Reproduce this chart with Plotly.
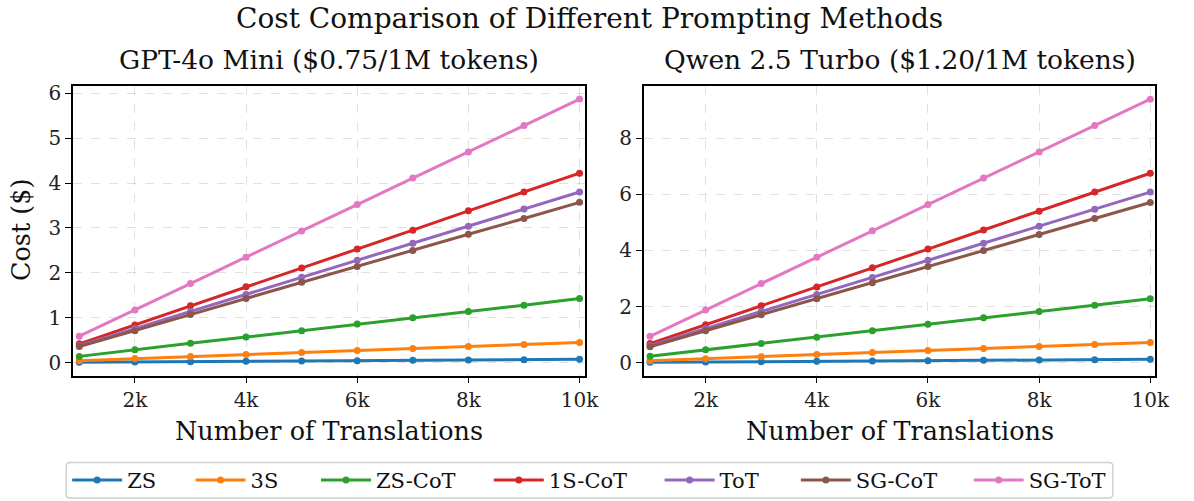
import plotly.graph_objects as go

translations = [1000, 2000, 3000, 4000, 5000, 6000, 7000, 8000, 9000, 10000]
methods = ["ZS", "3S", "ZS-CoT", "1S-CoT", "ToT", "SG-CoT", "SG-ToT"]
colors = ["#1f77b4", "#ff7f0e", "#2ca02c", "#d62728", "#9467bd", "#8c564b", "#e377c2"]

gpt_zs = [0.0075, 0.015, 0.0225, 0.03, 0.0375, 0.045, 0.0525, 0.06, 0.0675, 0.075]
gpt_3s = [0.045, 0.09, 0.135, 0.18, 0.225, 0.27, 0.315, 0.36, 0.405, 0.45]
gpt_zscot = [0.14, 0.29, 0.43, 0.57, 0.71, 0.86, 1.00, 1.14, 1.28, 1.43]
gpt_1scot = [0.42, 0.84, 1.27, 1.69, 2.11, 2.53, 2.95, 3.38, 3.80, 4.22]
gpt_tot = [0.38, 0.76, 1.14, 1.52, 1.90, 2.28, 2.66, 3.04, 3.42, 3.80]
gpt_sgcot = [0.36, 0.71, 1.07, 1.43, 1.79, 2.14, 2.50, 2.86, 3.21, 3.57]
gpt_sgtot = [0.59, 1.17, 1.76, 2.35, 2.93, 3.52, 4.11, 4.69, 5.28, 5.87]

qwen_zs = [0.012, 0.024, 0.036, 0.048, 0.06, 0.072, 0.084, 0.096, 0.108, 0.12]
qwen_3s = [0.072, 0.144, 0.216, 0.288, 0.36, 0.432, 0.504, 0.576, 0.648, 0.72]
qwen_zscot = [0.23, 0.46, 0.68, 0.91, 1.14, 1.37, 1.60, 1.82, 2.05, 2.28]
qwen_1scot = [0.68, 1.35, 2.03, 2.70, 3.38, 4.05, 4.73, 5.40, 6.08, 6.75]
qwen_tot = [0.61, 1.22, 1.82, 2.43, 3.04, 3.65, 4.26, 4.86, 5.47, 6.08]
qwen_sgcot = [0.57, 1.14, 1.71, 2.28, 2.85, 3.43, 4.00, 4.57, 5.14, 5.71]
qwen_sgtot = [0.94, 1.88, 2.82, 3.76, 4.70, 5.64, 6.58, 7.51, 8.45, 9.39]

x_tickvals = [2000, 4000, 6000, 8000, 10000]
x_ticktext = ["2k", "4k", "6k", "8k", "10k"]

gpt_series = [gpt_zs, gpt_3s, gpt_zscot, gpt_1scot, gpt_tot, gpt_sgcot, gpt_sgtot]
qwen_series = [qwen_zs, qwen_3s, qwen_zscot, qwen_1scot, qwen_tot, qwen_sgcot, qwen_sgtot]

FONT = "DejaVu Serif"
W, H = 1194, 501

legend_names = ["legend"] + ["legend%d" % k for k in range(2, 8)]
legend_line_start = [74, 199, 326, 501, 674, 812, 987]

fig = go.Figure()
for i, m in enumerate(methods):
    fig.add_trace(go.Scatter(x=translations, y=gpt_series[i], name=m, mode="lines+markers",
                             line=dict(color=colors[i], width=3), marker=dict(size=7, color=colors[i]),
                             xaxis="x", yaxis="y", legendgroup=m, showlegend=True,
                             legend=legend_names[i]))
for i, m in enumerate(methods):
    fig.add_trace(go.Scatter(x=translations, y=qwen_series[i], name=m, mode="lines+markers",
                             line=dict(color=colors[i], width=3), marker=dict(size=7, color=colors[i]),
                             xaxis="x2", yaxis="y2", legendgroup=m, showlegend=False))

ydom = [1 - 375 / H, 1 - 82 / H]
common_axis = dict(showline=True, linecolor="black", linewidth=1.6, mirror=True,
                   ticks="outside", ticklen=6, tickwidth=1.3, tickcolor="black",
                   showgrid=True, gridcolor="rgba(0,0,0,0.12)", griddash="dash", gridwidth=1,
                   zeroline=False, tickfont=dict(family=FONT, size=20, color="#222"))

layout_legends = {}
for i, ln in enumerate(legend_names):
    layout_legends[ln] = dict(orientation="h", x=(legend_line_start[i] - 6) / W, xanchor="left",
                              y=1 - 481 / H, yanchor="middle", borderwidth=0,
                              bgcolor="rgba(0,0,0,0)", itemwidth=50,
                              font=dict(family=FONT, size=21, color="#111"))

fig.update_layout(
    width=W, height=H, margin=dict(l=0, r=0, t=0, b=0),
    plot_bgcolor="white", paper_bgcolor="white",
    font=dict(family=FONT, color="#111"),
    xaxis=dict(domain=[74 / W, 592 / W], range=[888, 10090], tickvals=x_tickvals, ticktext=x_ticktext,
               anchor="y", **common_axis),
    yaxis=dict(domain=ydom, range=[-0.286, 6.16], tickvals=[0, 1, 2, 3, 4, 5, 6], anchor="x", **common_axis),
    xaxis2=dict(domain=[652 / W, 1170 / W], range=[888, 10090], tickvals=x_tickvals, ticktext=x_ticktext,
                anchor="y2", **common_axis),
    yaxis2=dict(domain=ydom, range=[-0.457, 9.86], tickvals=[0, 2, 4, 6, 8], anchor="x2", **common_axis),
    showlegend=True,
    **layout_legends,
)

# legend frame (rounded rectangle)
x0, x1, y0, y1, r = 67, 1127, 463, 499, 4
def px(x):
    return x / W
def py(y):
    return 1 - y / H
path = (f"M {px(x0 + r)},{py(y0)} L {px(x1 - r)},{py(y0)} Q {px(x1)},{py(y0)} {px(x1)},{py(y0 + r)} "
        f"L {px(x1)},{py(y1 - r)} Q {px(x1)},{py(y1)} {px(x1 - r)},{py(y1)} "
        f"L {px(x0 + r)},{py(y1)} Q {px(x0)},{py(y1)} {px(x0)},{py(y1 - r)} "
        f"L {px(x0)},{py(y0 + r)} Q {px(x0)},{py(y0)} {px(x0 + r)},{py(y0)} Z")
fig.add_shape(type="path", path=path, xref="paper", yref="paper",
              line=dict(color="#d0d0d0", width=1.5), fillcolor="rgba(255,255,255,0.8)", layer="below")

annots = [
    dict(text="Cost Comparison of Different Prompting Methods", x=0.5, y=1 - 14 / H, size=28),
    dict(text="GPT-4o Mini ($0.75/1M tokens)", x=(74 + 592) / 2 / W, y=1 - 55 / H, size=26.5),
    dict(text="Qwen 2.5 Turbo ($1.20/1M tokens)", x=(652 + 1170) / 2 / W, y=1 - 55 / H, size=26.5),
    dict(text="Number of Translations", x=(74 + 592) / 2 / W, y=1 - 431 / H, size=25.5),
    dict(text="Number of Translations", x=(652 + 1170) / 2 / W, y=1 - 431 / H, size=25.5),
]
for a in annots:
    fig.add_annotation(text=a["text"], x=a["x"], y=a["y"], xref="paper", yref="paper",
                       xanchor="center", yanchor="middle", showarrow=False,
                       font=dict(family=FONT, size=a["size"], color="#111"))
fig.add_annotation(text="Cost ($)", x=22 / W, y=1 - 228 / H, xref="paper", yref="paper",
                   xanchor="center", yanchor="middle", showarrow=False, textangle=-90,
                   font=dict(family=FONT, size=25.5, color="#111"))

fig.write_html("out.html")
